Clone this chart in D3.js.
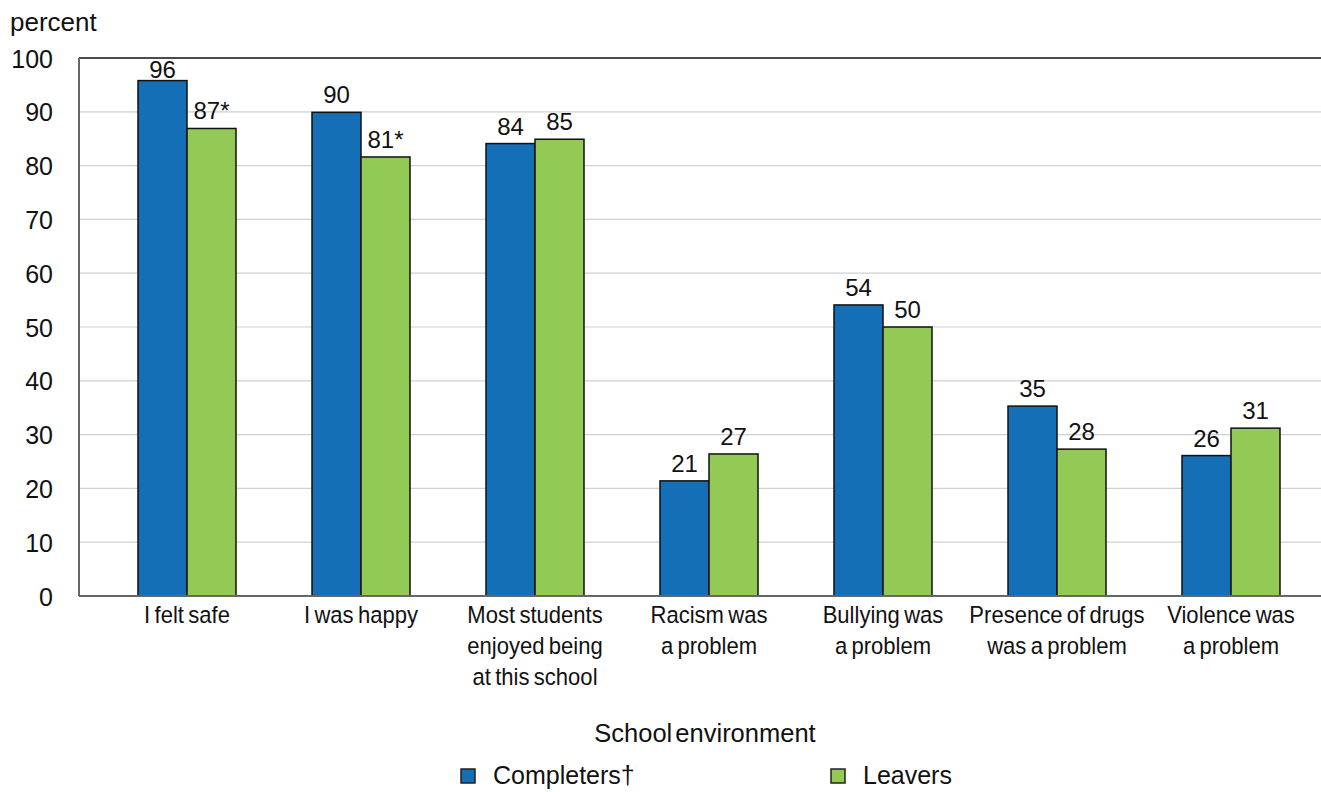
<!DOCTYPE html>
<html>
<head>
<meta charset="utf-8">
<script src="https://cdn.jsdelivr.net/npm/d3@7/dist/d3.min.js"></script>
<style>
  body { margin: 0; background: #fff; }
  svg { font-family: "Liberation Sans", Arial, sans-serif; fill: #111; }
</style>
</head>
<body>
<div id="chart"></div>
<script>
// data
const categories = [
  ["I felt safe"],
  ["I was happy"],
  ["Most students", "enjoyed being", "at this school"],
  ["Racism was", "a problem"],
  ["Bullying was", "a problem"],
  ["Presence of drugs", "was a problem"],
  ["Violence was", "a problem"]
];
const completers = [95.8, 89.9, 84.1, 21.4, 54.1, 35.3, 26.1];
const leavers = [86.9, 81.6, 84.9, 26.4, 50.0, 27.3, 31.2];
const completerLabels = ["96", "90", "84", "21", "54", "35", "26"];
const leaverLabels = ["87*", "81*", "85", "27", "50", "28", "31"];
const seriesNames = ["Completers\u2020", "Leavers"];
const yTicks = [0, 10, 20, 30, 40, 50, 60, 70, 80, 90, 100];

const width = 1321, height = 792;
const colors = ["#156fb7", "#93c955"];

const svg = d3.select("#chart").append("svg")
  .attr("width", width)
  .attr("height", height);

// plot area
const plotLeft = 79, plotTop = 58, plotBottom = 596, plotRight = 1321;

const x = d3.scaleBand()
  .domain(d3.range(categories.length))
  .range([100, 100 + 174 * categories.length])
  .paddingInner(76 / 174)
  .paddingOuter(38 / 174);

const xs = d3.scaleBand()
  .domain([0, 1])
  .range([0, x.bandwidth()]);

const y = d3.scaleLinear().domain([0, 100]).range([plotBottom, plotTop]);

// gridlines
svg.append("g")
  .selectAll("line")
  .data(yTicks.filter(d => d > 0 && d < 100))
  .join("line")
  .attr("x1", plotLeft).attr("x2", plotRight)
  .attr("y1", d => y(d)).attr("y2", d => y(d))
  .attr("stroke", "#d0d0d0")
  .attr("stroke-width", 1.2);

// top border
svg.append("line")
  .attr("x1", plotLeft).attr("x2", plotRight)
  .attr("y1", y(100)).attr("y2", y(100))
  .attr("stroke", "#111").attr("stroke-width", 1.5);

// y axis
const yAxis = d3.axisLeft(y).tickValues(yTicks).tickSize(0).tickPadding(26);
const yg = svg.append("g").attr("transform", `translate(${plotLeft},0)`).call(yAxis);
yg.select(".domain").remove();
yg.selectAll("text")
  .attr("font-size", 25)
  .attr("fill", "#111")
  .attr("font-family", "Liberation Sans, Arial, sans-serif")
  .attr("dy", "0.36em");

svg.append("text")
  .attr("x", 10).attr("y", 31)
  .attr("font-size", 26)
  .text("percent");

// bars
const groups = svg.append("g")
  .selectAll("g")
  .data(categories.map((c, i) => i))
  .join("g")
  .attr("transform", i => `translate(${x(i)},0)`);

const seriesVals = [completers, leavers];
const seriesLabels = [completerLabels, leaverLabels];

groups.selectAll("rect")
  .data(i => [0, 1].map(s => ({ s, v: seriesVals[s][i] })))
  .join("rect")
  .attr("x", d => xs(d.s))
  .attr("y", d => y(d.v))
  .attr("width", xs.bandwidth())
  .attr("height", d => plotBottom - y(d.v))
  .attr("fill", d => colors[d.s])
  .attr("stroke", "#111")
  .attr("stroke-width", 1.5);

groups.selectAll("text.val")
  .data(i => [0, 1].map(s => ({ s, v: seriesVals[s][i], t: seriesLabels[s][i] })))
  .join("text")
  .attr("class", "val")
  .attr("x", d => xs(d.s) + xs.bandwidth() / 2)
  .attr("y", d => Math.max(y(d.v) - 9, plotTop + 20))
  .attr("text-anchor", "middle")
  .attr("font-size", 24)
  .text(d => d.t);

// axes lines
svg.append("line")
  .attr("x1", plotLeft).attr("x2", plotLeft)
  .attr("y1", plotTop).attr("y2", plotBottom)
  .attr("stroke", "#666").attr("stroke-width", 2);
svg.append("line")
  .attr("x1", plotLeft).attr("x2", plotRight)
  .attr("y1", plotBottom).attr("y2", plotBottom)
  .attr("stroke", "#666").attr("stroke-width", 2);

// category labels (slightly condensed, like the reference)
const xl = svg.append("g")
  .selectAll("text")
  .data(categories.map((c, i) => i))
  .join("text")
  .attr("transform", i => `translate(${x(i) + x.bandwidth() / 2},623) scale(0.9,1)`)
  .attr("text-anchor", "middle")
  .attr("font-size", 24.5)
  .attr("word-spacing", -2);
xl.selectAll("tspan")
  .data(i => categories[i].map((line, k) => ({ line, k })))
  .join("tspan")
  .attr("x", 0)
  .attr("y", d => d.k * 31)
  .text(d => d.line);

svg.append("text")
  .attr("x", 705).attr("y", 742)
  .attr("text-anchor", "middle")
  .attr("font-size", 25.5)
  .attr("word-spacing", -4)
  .text("School environment");

// legend
const legendX = [461, 831];
const legend = svg.append("g")
  .selectAll("g")
  .data(seriesNames.map((n, i) => i))
  .join("g")
  .attr("transform", i => `translate(${legendX[i]},769)`);
legend.append("rect")
  .attr("width", 14).attr("height", 14)
  .attr("fill", i => colors[i])
  .attr("stroke", "#222").attr("stroke-width", 1.5);
legend.append("text")
  .attr("x", 32).attr("y", 15)
  .attr("font-size", 25)
  .text(i => seriesNames[i]);
</script>
</body>
</html>
